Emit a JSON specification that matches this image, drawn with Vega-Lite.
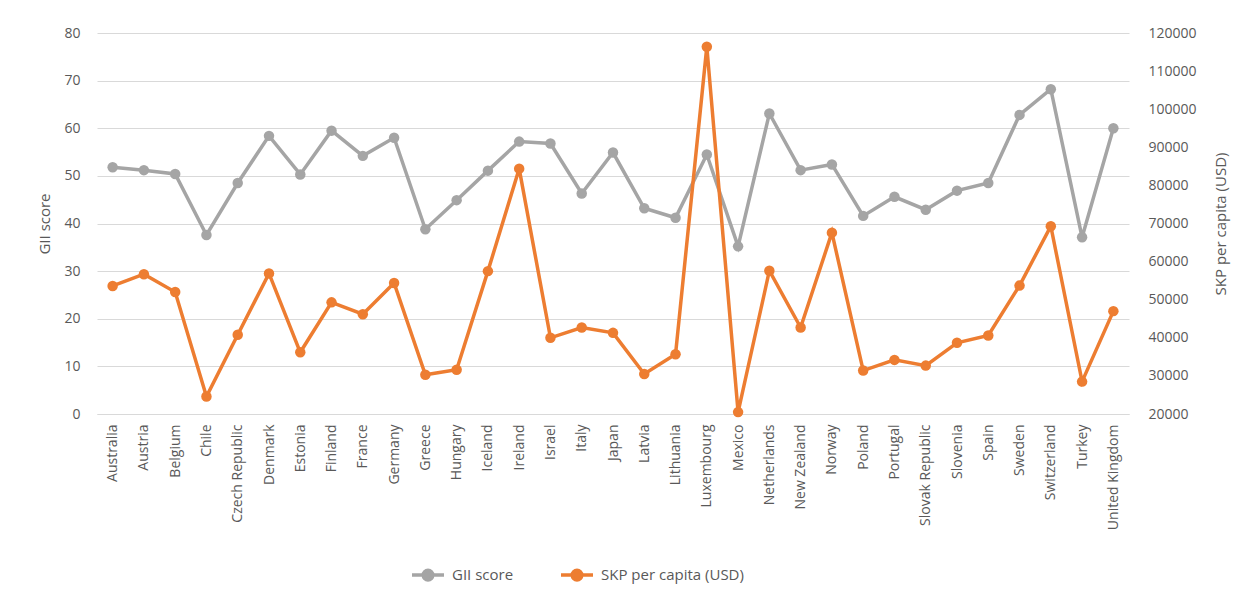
{
  "$schema": "https://vega.github.io/schema/vega-lite/v6.json",
  "width": 1032,
  "height": 381,
  "autosize": "none",
  "padding": {"left": 97, "top": 33, "right": 119, "bottom": 196},
  "background": "white",
  "config": {
    "font": "Open Sans",
    "view": {"stroke": null},
    "axis": {"labelColor": "#595959", "titleColor": "#595959", "labelFont": "Open Sans", "titleFont": "Open Sans", "titleFontWeight": "normal", "ticks": false, "domain": false, "labelFontSize": 14, "titleFontSize": 15, "gridColor": "#d9d9d9", "gridWidth": 1.2}
  },
  "data": {
    "values": [
      {"country": "Australia", "gii": 51.8, "skp": 53600},
      {"country": "Austria", "gii": 51.2, "skp": 56700},
      {"country": "Belgium", "gii": 50.4, "skp": 52000},
      {"country": "Chile", "gii": 37.6, "skp": 24600},
      {"country": "Czech Republic", "gii": 48.5, "skp": 40800},
      {"country": "Denmark", "gii": 58.4, "skp": 56900},
      {"country": "Estonia", "gii": 50.3, "skp": 36200},
      {"country": "Finland", "gii": 59.5, "skp": 49300},
      {"country": "France", "gii": 54.2, "skp": 46200},
      {"country": "Germany", "gii": 58.0, "skp": 54400},
      {"country": "Greece", "gii": 38.8, "skp": 30300},
      {"country": "Hungary", "gii": 44.9, "skp": 31600},
      {"country": "Iceland", "gii": 51.1, "skp": 57500},
      {"country": "Ireland", "gii": 57.2, "skp": 84400},
      {"country": "Israel", "gii": 56.8, "skp": 40000},
      {"country": "Italy", "gii": 46.3, "skp": 42700},
      {"country": "Japan", "gii": 54.9, "skp": 41300},
      {"country": "Latvia", "gii": 43.2, "skp": 30500},
      {"country": "Lithuania", "gii": 41.2, "skp": 35700},
      {"country": "Luxembourg", "gii": 54.5, "skp": 116400},
      {"country": "Mexico", "gii": 35.2, "skp": 20500},
      {"country": "Netherlands", "gii": 63.1, "skp": 57600},
      {"country": "New Zealand", "gii": 51.2, "skp": 42700},
      {"country": "Norway", "gii": 52.4, "skp": 67600},
      {"country": "Poland", "gii": 41.6, "skp": 31400},
      {"country": "Portugal", "gii": 45.6, "skp": 34200},
      {"country": "Slovak Republic", "gii": 42.9, "skp": 32700},
      {"country": "Slovenia", "gii": 46.9, "skp": 38700},
      {"country": "Spain", "gii": 48.5, "skp": 40600},
      {"country": "Sweden", "gii": 62.8, "skp": 53700},
      {"country": "Switzerland", "gii": 68.2, "skp": 69300},
      {"country": "Turkey", "gii": 37.1, "skp": 28500},
      {"country": "United Kingdom", "gii": 60.0, "skp": 47000}
    ]
  },
  "encoding": {
    "x": {
      "field": "country", "type": "nominal", "sort": null,
      "scale": {"type": "point", "padding": 0.5},
      "axis": {"title": null, "labelAngle": -90, "labelPadding": 10, "labelFontSize": 14, "grid": false, "domain": true, "domainColor": "#d9d9d9", "domainWidth": 1.2}
    }
  },
  "layer": [
    {
      "mark": {"type": "line", "strokeWidth": 3.5, "point": {"filled": true, "size": 110}},
      "encoding": {
        "y": {"field": "gii", "type": "quantitative", "scale": {"domain": [0, 80]},
          "axis": {"title": "GII score", "orient": "left", "values": [0,10,20,30,40,50,60,70,80], "labelPadding": 17, "titlePadding": 11, "grid": true}},
        "color": {"datum": "GII score", "type": "nominal",
          "scale": {"domain": ["GII score", "SKP per capita (USD)"], "range": ["#a5a5a5", "#ed7d31"]},
          "legend": {"title": null, "orient": "none", "legendX": 313, "legendY": 524, "direction": "horizontal",
            "symbolType": "M-1,0H1M-0.3,0A0.3,0.3,0,1,1,0.3,0A0.3,0.3,0,1,1,-0.3,0Z",
            "symbolSize": 1024, "symbolStrokeWidth": 3.5, "labelFontSize": 15, "labelColor": "#595959", "labelOffset": 6, "columnPadding": 40,
            "encode": {"symbols": {"update": {"fill": {"scale": "color", "field": "value"}, "stroke": {"scale": "color", "field": "value"}}}}}
        }
      }
    },
    {
      "mark": {"type": "line", "strokeWidth": 3.5, "point": {"filled": true, "size": 110}},
      "encoding": {
        "y": {"field": "skp", "type": "quantitative", "scale": {"domain": [20000, 120000]},
          "axis": {"title": "SKP per capita (USD)", "orient": "right", "titleAngle": 270, "values": [20000,30000,40000,50000,60000,70000,80000,90000,100000,110000,120000], "format": "d", "labelPadding": 19, "titlePadding": 32, "grid": false}},
        "color": {"datum": "SKP per capita (USD)", "type": "nominal"}
      }
    }
  ],
  "resolve": {"scale": {"y": "independent"}}
}
